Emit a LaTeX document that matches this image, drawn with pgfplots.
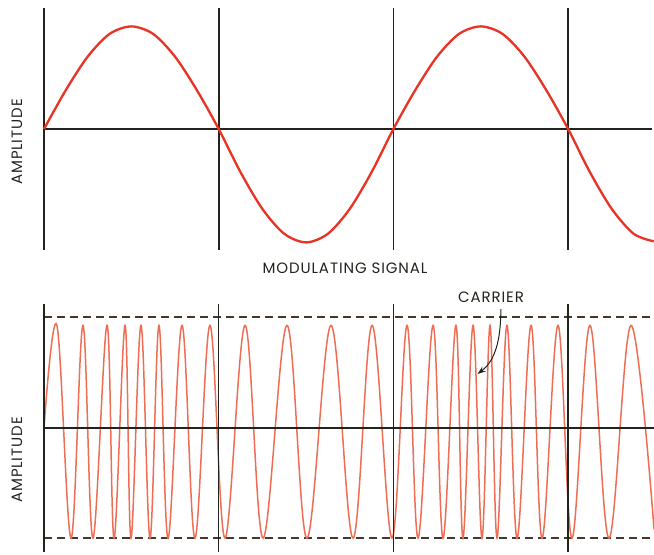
\documentclass[border=0pt]{standalone}
\usepackage{pgfplots}
\pgfplotsset{compat=1.18}
\usepackage{fontspec}
\setmainfont{Poppins}[LetterSpace=6]
\usetikzlibrary{arrows.meta}
\definecolor{sinered}{RGB}{232,52,38}
\definecolor{carrred}{RGB}{238,110,85}
\definecolor{ink}{RGB}{35,35,30}
\definecolor{dashc}{RGB}{70,55,45}
\begin{document}
\begin{tikzpicture}
\useasboundingbox (0,0) rectangle (392.4pt,332.4pt);
% top panel
\begin{axis}[at={(26.4pt,180.48pt)}, anchor=south west, x=104.82pt, y=64.8pt,
  xmin=0, xmax=3.49, ymin=-1.15, ymax=1.15, hide axis, clip=false]
\addplot[ink, line width=1.1pt] coordinates {(0,0) (3.48,0)};
\addplot[ink, line width=1.2pt] coordinates {(0,-1.12) (0,1.12)};
\addplot[ink, line width=1.0pt] coordinates {(1,-1.12) (1,1.12)};
\addplot[ink, line width=1.0pt] coordinates {(2,-1.12) (2,1.12)};
\addplot[ink, line width=1.0pt] coordinates {(3,-1.12) (3,1.12)};
\addplot[sinered, line width=1.4pt, smooth] coordinates {
(0,0) (0.125,0.36) (0.25,0.67) (0.375,0.88) (0.5,0.95) (0.625,0.88) (0.75,0.67) (0.875,0.36)
(1,0) (1.125,-0.40) (1.25,-0.74) (1.375,-0.97) (1.5,-1.05) (1.625,-0.97) (1.75,-0.74) (1.875,-0.40)
(2,0) (2.125,0.36) (2.25,0.67) (2.375,0.88) (2.5,0.95) (2.625,0.88) (2.75,0.67) (2.875,0.36)
(3,0) (3.125,-0.40) (3.25,-0.74) (3.375,-0.97) (3.49,-1.04)};
\end{axis}
% bottom panel
\begin{axis}[at={(26.4pt,0.432pt)}, anchor=south west, x=104.82pt, y=64.8pt,
  xmin=0, xmax=3.49, ymin=-1.16, ymax=1.16, hide axis, clip=false]
\addplot[dashc, line width=0.9pt, dash pattern=on 4.5pt off 3.3pt] coordinates {(0,1.03) (3.49,1.03)};
\addplot[dashc, line width=0.9pt, dash pattern=on 4.5pt off 3.3pt] coordinates {(0,-1.02) (3.49,-1.02)};
\addplot[carrred, line width=0.9pt, smooth, tension=0.6] coordinates {
(0,0) (0.074,0.95) (0.155,-1.02) (0.223,0.95) (0.280,-1.02) (0.361,0.95) (0.401,-1.02)
(0.464,0.95) (0.498,-1.02) (0.555,0.95) (0.607,-1.02) (0.658,0.95) (0.710,-1.02)
(0.790,0.95) (0.864,-1.02) (0.950,0.95) (1.036,-1.02) (1.151,0.95) (1.254,-1.02)
(1.391,0.95) (1.505,-1.02) (1.643,0.95) (1.769,-1.02) (1.878,0.95) (1.992,-1.02)
(2.078,0.95) (2.141,-1.02) (2.227,0.95) (2.284,-1.02) (2.358,0.95) (2.398,-1.02)
(2.456,0.95) (2.507,-1.02) (2.553,0.95) (2.593,-1.02) (2.650,0.95) (2.708,-1.02)
(2.788,0.95) (2.851,-1.02) (2.942,0.95) (3.022,-1.02) (3.125,0.95) (3.234,-1.02)
(3.360,0.95) (3.492,-0.94)};
\addplot[ink, line width=1.1pt] coordinates {(0,0) (3.49,0)};
\addplot[ink, line width=1.2pt] coordinates {(0,-1.15) (0,1.15)};
\addplot[ink, line width=0.8pt] coordinates {(1,-1.15) (1,1.15)};
\addplot[ink, line width=0.8pt] coordinates {(2,-1.15) (2,1.15)};
\addplot[ink, line width=0.8pt] coordinates {(3,-1.15) (3,1.15)};
\end{axis}
% labels
\node[rotate=90, font=\fontsize{9}{10}\selectfont, text=ink] at (10.2pt,247.2pt) {AMPLITUDE};
\node[rotate=90, font=\fontsize{9}{10}\selectfont, text=ink] at (10.2pt,56.4pt) {AMPLITUDE};
\node[font=\fontsize{9}{10}\selectfont, text=ink] at (207pt,171.6pt) {MODULATING SIGNAL};
\node[font=\fontsize{9}{10}\selectfont, text=ink] at (294.6pt,154.2pt) {CARRIER};
\draw[ink, line width=0.6pt, -{Stealth[length=5pt,width=3.5pt]}] (300.5pt,147pt) .. controls (300.5pt,128pt) and (297pt,116pt) .. (286.5pt,108pt);
\end{tikzpicture}
\end{document}
